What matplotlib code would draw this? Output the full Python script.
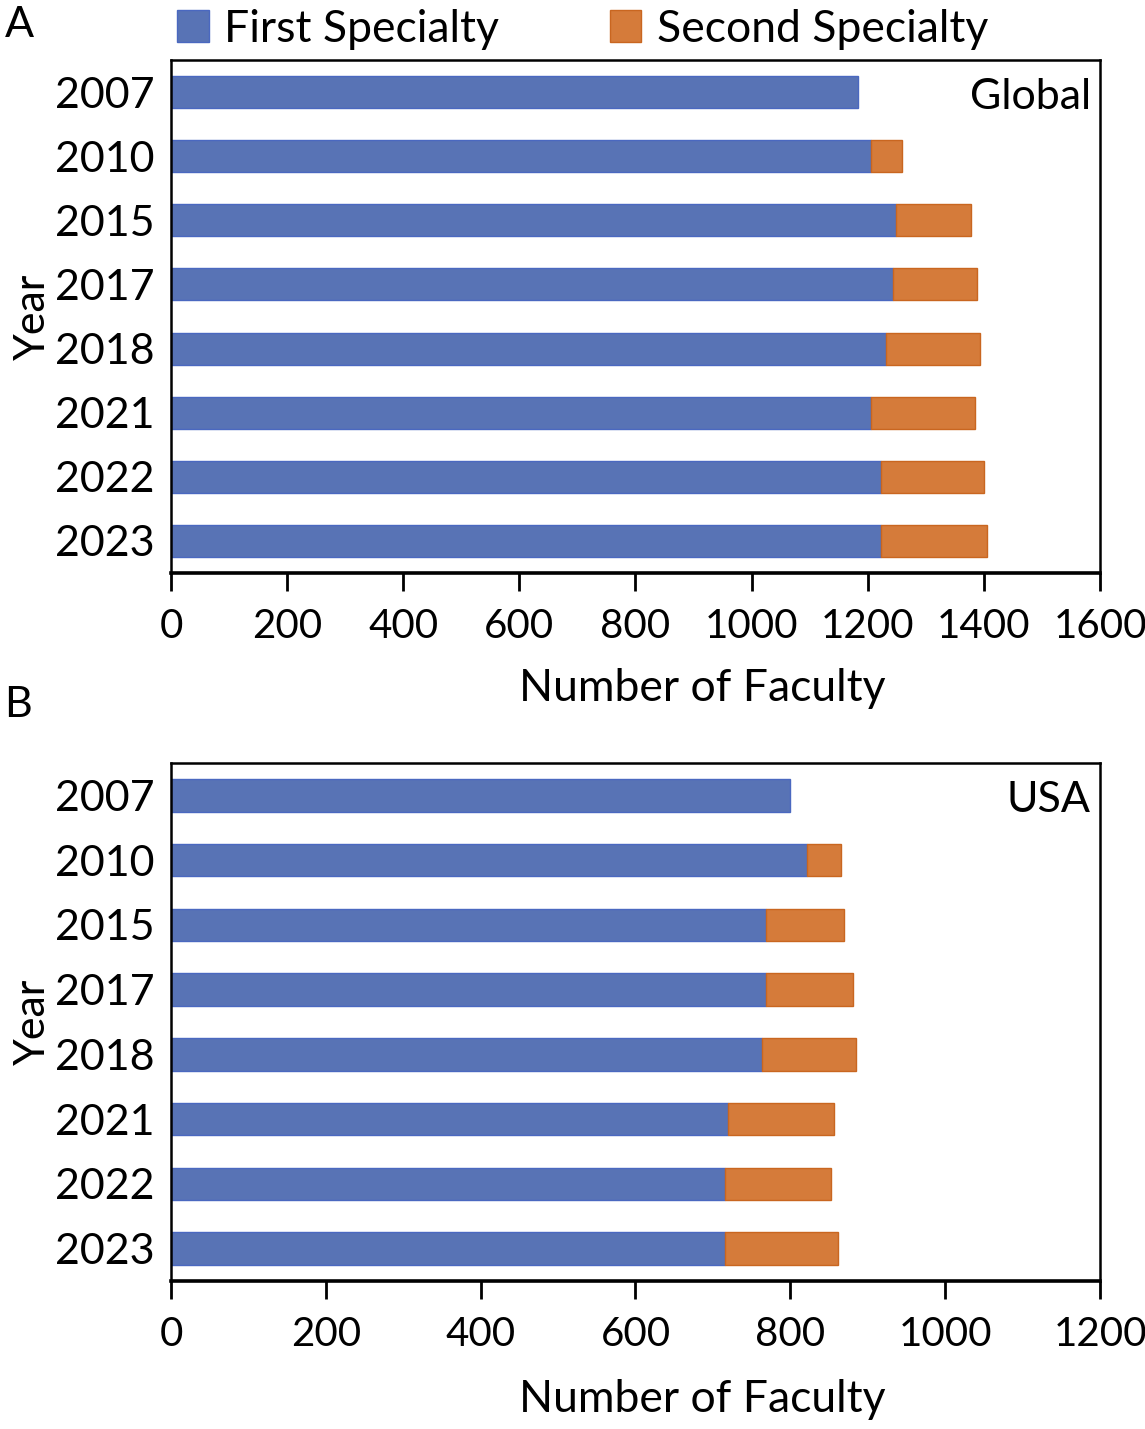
import matplotlib
matplotlib.use("Agg")
import matplotlib.pyplot as plt
from matplotlib.patches import Patch

plt.rcParams['font.family'] = ['Lato', 'DejaVu Sans']

# 数据
years = ['2007', '2010', '2015', '2017', '2018', '2021', '2022', '2023']
global_first = [1183, 1205, 1248, 1243, 1232, 1205, 1222, 1222]
global_second = [0, 54, 130, 146, 162, 179, 178, 183]
usa_first = [800, 821, 768, 768, 764, 719, 715, 715]
usa_second = [0, 44, 101, 113, 121, 138, 138, 146]
global_ticks = [0, 200, 400, 600, 800, 1000, 1200, 1400, 1600]
usa_ticks = [0, 200, 400, 600, 800, 1000, 1200]

blue = '#5873B5'
orange = '#D57B3A'
fs = 31

fig = plt.figure(figsize=(11.45, 14.29), dpi=100)
axA = fig.add_axes([0.1493, 0.599, 0.8114, 0.359])
axB = fig.add_axes([0.1493, 0.1036, 0.8114, 0.3625])


def draw(ax, first, second, ticks, tag, ly):
    pos = range(len(years))
    ax.barh(pos, first, height=0.5, color=blue, edgecolor='#4A68C0', linewidth=1)
    # 第二专业为0的年份不画边框
    lw = [0 if v == 0 else 1 for v in second]
    ax.barh(pos, second, left=first, height=0.5, color=orange, edgecolor='#C96620', linewidth=lw)
    ax.set_yticks(list(pos))
    ax.set_yticklabels(years, fontsize=fs)
    ax.set_ylim(len(years) - 0.5, -0.5)
    ax.set_xlim(ticks[0], ticks[-1])
    ax.set_xticks(ticks)
    ax.set_xticklabels([str(t) for t in ticks], fontsize=29)
    ax.tick_params(axis='y', length=0, pad=12)
    ax.tick_params(axis='x', direction='out', length=13, width=2, pad=12)
    for s in ax.spines.values():
        s.set_linewidth(1.8)
    ax.spines['bottom'].set_linewidth(2.6)
    ax.set_xlabel('Number of Faculty', fontsize=32)
    ax.xaxis.set_label_coords(0.572, ly)
    ax.set_ylabel('Year', fontsize=fs, labelpad=2)
    ax.text(0.99, 0.965, tag, transform=ax.transAxes, ha='right', va='top', fontsize=fs)


draw(axA, global_first, global_second, global_ticks, 'Global', -0.186)
draw(axB, usa_first, usa_second, usa_ticks, 'USA', -0.19)

fig.text(0.004, 0.996, 'A', fontsize=fs, va='top', ha='left')
fig.text(0.004, 0.52, 'B', fontsize=fs, va='top', ha='left')

handles = [Patch(facecolor=blue, edgecolor='#4A68C0'), Patch(facecolor=orange, edgecolor='#C96620')]
fig.legend(handles, ['First Specialty', 'Second Specialty'], loc='upper left',
           bbox_to_anchor=(0.12, 1.022), ncol=2, frameon=False, fontsize=32,
           handlelength=0.7, handleheight=0.7, handletextpad=0.35, columnspacing=2.5)

fig.savefig('out.png', dpi=100)
